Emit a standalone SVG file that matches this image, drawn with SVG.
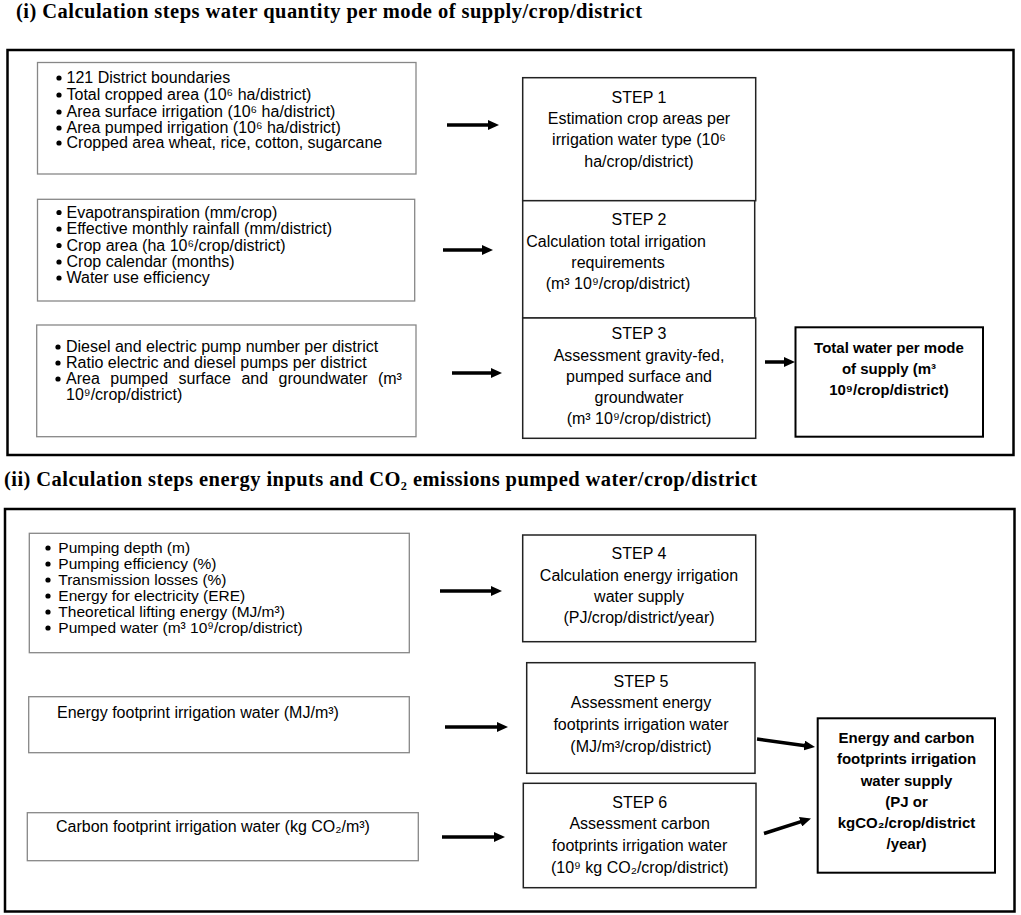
<svg xmlns="http://www.w3.org/2000/svg" width="1021" height="915" viewBox="0 0 1021 915">
<style>
.bg{fill:#fff}
.frame{fill:none;stroke:#000;stroke-width:2.5}
.inbox{fill:#fff;stroke:#878787;stroke-width:1.3}
.step{fill:#fff;stroke:#222;stroke-width:1.5}
.out{fill:#fff;stroke:#000;stroke-width:2}
.t{font-family:"Liberation Sans",Arial,sans-serif;font-size:16px;fill:#000}
.s{font-size:15.5px}
.c{text-anchor:middle}
.b{font-weight:bold;font-size:15px}
.title{font-family:"Liberation Serif","Times New Roman",serif;font-weight:bold;font-size:20.5px;fill:#000}
.dot{fill:#000}
.arr{stroke:#000;stroke-width:3.5;fill:none;marker-end:url(#ah)}
</style>
<defs>
<marker id="ah" markerUnits="userSpaceOnUse" markerWidth="11" markerHeight="10" refX="3" refY="5" orient="auto">
<path d="M0,0 L11,5 L0,10 Z" fill="#000"/>
</marker>
</defs>
<rect class="bg" x="0" y="0" width="1021" height="915"/>

<text class="title" x="16" y="18" textLength="626" lengthAdjust="spacing">(i) Calculation steps water quantity per mode of supply/crop/district</text>
<rect class="frame" x="7.5" y="50" width="1006" height="405"/>

<text class="title" x="4" y="486" textLength="753" lengthAdjust="spacing">(ii) Calculation steps energy inputs and CO₂ emissions pumped water/crop/district</text>
<rect class="frame" x="5" y="509" width="1009.5" height="402.5"/>

<g id="input1">
<rect class="inbox" x="37.5" y="62.5" width="378.5" height="111.5"/>
<circle class="dot" cx="59" cy="78" r="2.6"/>
<circle class="dot" cx="59" cy="95" r="2.6"/>
<circle class="dot" cx="59" cy="112" r="2.6"/>
<circle class="dot" cx="59" cy="128" r="2.6"/>
<circle class="dot" cx="59" cy="143" r="2.6"/>
<text class="t" x="66.5" y="83">121 District boundaries</text>
<text class="t" x="66.5" y="100">Total cropped area (10⁶ ha/district)</text>
<text class="t" x="66.5" y="117">Area surface irrigation (10⁶ ha/district)</text>
<text class="t" x="66.5" y="133">Area pumped irrigation (10⁶ ha/district)</text>
<text class="t" x="66.5" y="148">Cropped area wheat, rice, cotton, sugarcane</text>
</g>

<g id="input2">
<rect class="inbox" x="37.5" y="199.3" width="377.2" height="101.7"/>
<circle class="dot" cx="59" cy="212.5" r="2.6"/>
<circle class="dot" cx="59" cy="229" r="2.6"/>
<circle class="dot" cx="59" cy="245.5" r="2.6"/>
<circle class="dot" cx="59" cy="262" r="2.6"/>
<circle class="dot" cx="59" cy="278" r="2.6"/>
<text class="t" x="66.5" y="217.5">Evapotranspiration (mm/crop)</text>
<text class="t" x="66.5" y="234">Effective monthly rainfall (mm/district)</text>
<text class="t" x="66.5" y="250.5">Crop area (ha 10⁶/crop/district)</text>
<text class="t" x="66.5" y="267">Crop calendar (months)</text>
<text class="t" x="66.5" y="283">Water use efficiency</text>
</g>

<g id="input3">
<rect class="inbox" x="36.7" y="325" width="379.3" height="111.7"/>
<circle class="dot" cx="58" cy="347" r="2.6"/>
<circle class="dot" cx="58" cy="363" r="2.6"/>
<circle class="dot" cx="58" cy="379" r="2.6"/>
<text class="t" x="66" y="352">Diesel and electric pump number per district</text>
<text class="t" x="66" y="368">Ratio electric and diesel pumps per district</text>
<text class="t" x="66" y="384" word-spacing="6">Area pumped surface and groundwater (m³</text>
<text class="t" x="66" y="400">10⁹/crop/district)</text>
</g>

<g id="step1">
<rect class="step" x="522.7" y="77.7" width="233" height="123"/>
<text class="t c" x="639" y="102.7">STEP 1</text>
<text class="t c" x="639" y="124">Estimation crop areas per</text>
<text class="t c" x="639" y="145.3">irrigation water type (10⁶</text>
<text class="t c" x="639" y="166.6">ha/crop/district)</text>
</g>

<g id="step2">
<rect class="step" x="522.7" y="200.7" width="232" height="117.3"/>
<text class="t c" x="639" y="225">STEP 2</text>
<text class="t c" x="616" y="246.5">Calculation total irrigation</text>
<text class="t c" x="618" y="267.8">requirements</text>
<text class="t c" x="618" y="289">(m³ 10⁹/crop/district)</text>
</g>

<g id="step3">
<rect class="step" x="522.7" y="318" width="233" height="120.3"/>
<text class="t c" x="639" y="339">STEP 3</text>
<text class="t c" x="639" y="360.5">Assessment gravity-fed,</text>
<text class="t c" x="639" y="382">pumped surface and</text>
<text class="t c" x="639" y="403">groundwater</text>
<text class="t c" x="639" y="424">(m³ 10⁹/crop/district)</text>
</g>

<g id="total-water">
<rect class="out" x="795.5" y="327.3" width="187.5" height="109.4"/>
<text class="t b c" x="889" y="353">Total water per mode</text>
<text class="t b c" x="889" y="374">of supply (m³</text>
<text class="t b c" x="889" y="395">10⁹/crop/district)</text>
</g>

<g id="input4">
<rect class="inbox" x="29.3" y="533.3" width="380" height="119.4"/>
<circle class="dot" cx="48" cy="548" r="2.6"/>
<circle class="dot" cx="48" cy="564" r="2.6"/>
<circle class="dot" cx="48" cy="580" r="2.6"/>
<circle class="dot" cx="48" cy="596" r="2.6"/>
<circle class="dot" cx="48" cy="612" r="2.6"/>
<circle class="dot" cx="48" cy="628" r="2.6"/>
<text class="t s" x="58.3" y="553">Pumping depth (m)</text>
<text class="t s" x="58.3" y="569">Pumping efficiency (%)</text>
<text class="t s" x="58.3" y="585">Transmission losses (%)</text>
<text class="t s" x="58.3" y="601">Energy for electricity (ERE)</text>
<text class="t s" x="58.3" y="617">Theoretical lifting energy (MJ/m³)</text>
<text class="t s" x="58.3" y="633">Pumped water (m³ 10⁹/crop/district)</text>
</g>

<g id="input5">
<rect class="inbox" x="28.7" y="696.7" width="380.6" height="56"/>
<text class="t" x="57" y="718.3">Energy footprint irrigation water (MJ/m³)</text>
</g>

<g id="input6">
<rect class="inbox" x="27.3" y="812.7" width="391" height="48"/>
<text class="t" x="56" y="831.7">Carbon footprint irrigation water (kg CO₂/m³)</text>
</g>

<g id="step4">
<rect class="step" x="522.7" y="535" width="233" height="106.7"/>
<text class="t c" x="639" y="559.3">STEP 4</text>
<text class="t c" x="639" y="580.7">Calculation energy irrigation</text>
<text class="t c" x="639" y="601.7">water supply</text>
<text class="t c" x="639" y="623">(PJ/crop/district/year)</text>
</g>

<g id="step5">
<rect class="step" x="526.7" y="662.7" width="228.3" height="110.6"/>
<text class="t c" x="641" y="686.7">STEP 5</text>
<text class="t c" x="641" y="708.3">Assessment energy</text>
<text class="t c" x="641" y="730">footprints irrigation water</text>
<text class="t c" x="641" y="751.7">(MJ/m³/crop/district)</text>
</g>

<g id="step6">
<rect class="step" x="523.3" y="783.3" width="232.7" height="104.4"/>
<text class="t c" x="639.7" y="808.3">STEP 6</text>
<text class="t c" x="639.7" y="829.3">Assessment carbon</text>
<text class="t c" x="639.7" y="850.7">footprints irrigation water</text>
<text class="t c" x="639.7" y="872.7">(10⁹ kg CO₂/crop/district)</text>
</g>

<g id="footprints">
<rect class="out" x="817.7" y="718.3" width="177.3" height="154.4"/>
<text class="t b c" x="906.5" y="742.7">Energy and carbon</text>
<text class="t b c" x="906.5" y="764.3">footprints irrigation</text>
<text class="t b c" x="906.5" y="785.7">water supply</text>
<text class="t b c" x="906.5" y="806.7">(PJ or</text>
<text class="t b c" x="906.5" y="828.3">kgCO₂/crop/district</text>
<text class="t b c" x="906.5" y="849.3">/year)</text>
</g>

<g id="connectors">
<line class="arr" x1="447" y1="125" x2="491" y2="125"/>
<line class="arr" x1="443" y1="250" x2="485" y2="250"/>
<line class="arr" x1="452" y1="373" x2="494" y2="373"/>
<line class="arr" x1="765" y1="362" x2="787" y2="362"/>
<line class="arr" x1="440" y1="591" x2="494" y2="591"/>
<line class="arr" x1="445" y1="727" x2="500" y2="727"/>
<line class="arr" x1="442" y1="837" x2="497" y2="837"/>
<line class="arr" x1="757" y1="739" x2="807.1" y2="745.9"/>
<line class="arr" x1="764" y1="833.5" x2="803.4" y2="820.9"/>
</g>
</svg>
